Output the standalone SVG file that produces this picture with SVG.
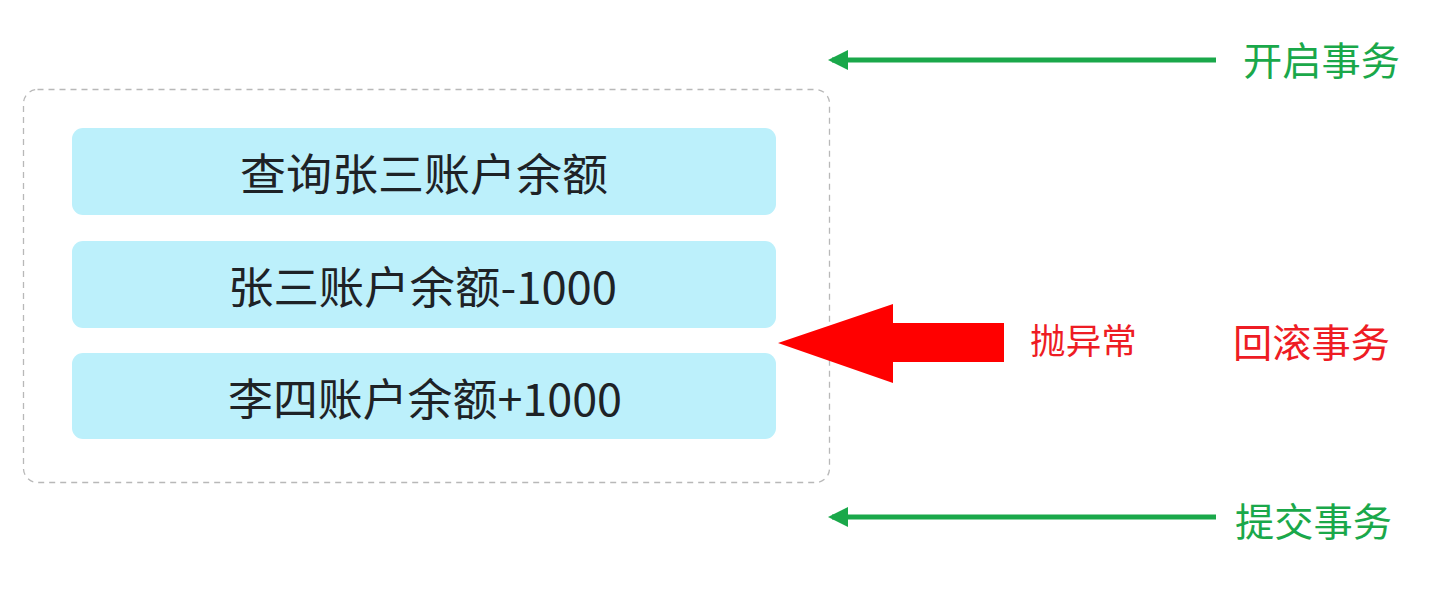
<svg xmlns="http://www.w3.org/2000/svg" width="1434" height="596" viewBox="0 0 1434 596">
<defs>
<style>
.step{fill:#bcf0fb;}
.steptxt{font-family:"Noto Sans CJK SC","Noto Sans",sans-serif;font-size:44px;fill:#1e2226;dominant-baseline:central;}
.g{font-family:"Noto Sans CJK SC",sans-serif;font-size:39px;fill:#1aa84a;dominant-baseline:central;}
.r{font-family:"Noto Sans CJK SC",sans-serif;font-size:39px;fill:#ee1c24;dominant-baseline:central;}
.gline{stroke:#1aa84a;stroke-width:5;fill:none;}
</style>
<marker id="ga" viewBox="0 0 10 10" refX="8" refY="5" markerWidth="4" markerHeight="4" markerUnits="strokeWidth" orient="auto">
<path d="M0,0 L10,5 L0,10 Z" fill="#1aa84a"/>
</marker>
</defs>
<rect width="1434" height="596" fill="#ffffff"/>
<g id="container">
<rect x="23.5" y="89.5" width="806" height="393" rx="14" fill="none" stroke="#b8b8b8" stroke-width="1.3" stroke-dasharray="6,5"/>
</g>
<g id="step1">
<rect class="step" x="72" y="128" width="704" height="87" rx="11"/>
<text class="steptxt" x="240" y="172" textLength="368" lengthAdjust="spacingAndGlyphs">查询张三账户余额</text>
</g>
<g id="step2">
<rect class="step" x="72" y="241" width="704" height="87" rx="11"/>
<text class="steptxt" x="228" y="285" textLength="389" lengthAdjust="spacingAndGlyphs">张三账户余额-1000</text>
</g>
<g id="step3">
<rect class="step" x="72" y="353" width="704" height="86" rx="11"/>
<text class="steptxt" x="228" y="397" textLength="394" lengthAdjust="spacingAndGlyphs">李四账户余额+1000</text>
</g>
<g id="labels">
<text class="g" x="1243" y="58" textLength="157" lengthAdjust="spacingAndGlyphs">开启事务</text>
<text class="r" x="1030" y="338" style="font-size:35px" textLength="107" lengthAdjust="spacingAndGlyphs">抛异常</text>
<text class="r" x="1233" y="340" textLength="157" lengthAdjust="spacingAndGlyphs">回滚事务</text>
<text class="g" x="1235" y="519" textLength="157" lengthAdjust="spacingAndGlyphs">提交事务</text>
</g>
<g id="connectors">
<line class="gline" x1="1216" y1="60" x2="832" y2="60" marker-end="url(#ga)"/>
<line class="gline" x1="1216" y1="517" x2="832" y2="517" marker-end="url(#ga)"/>
<polygon points="778,343 893,304 893,323 1004,323 1004,362 893,362 893,383" fill="#ff0000"/>
</g>
</svg>
